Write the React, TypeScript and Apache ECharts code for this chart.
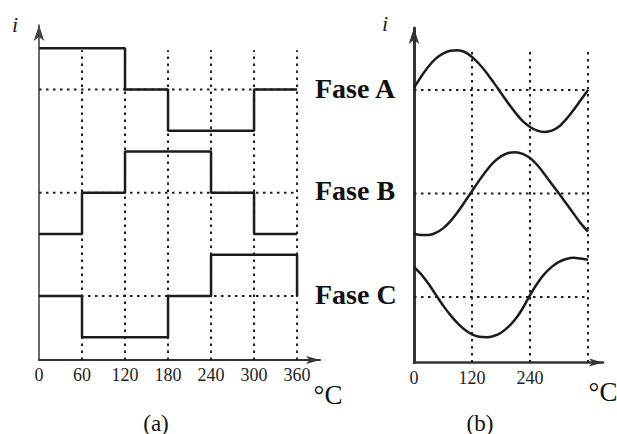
import React, { useEffect, useRef } from "react";
import * as echarts from "echarts";

// ---- Data ----
const stepDegrees = [0, 60, 120, 180, 240, 300, 360];
const stepPhaseA = [1, 1, 0, -1, -1, 0, 0];
const stepPhaseB = [-1, 0, 1, 1, 0, -1, -1];
const stepPhaseC = [0, -1, -1, 0, 1, 1, 0];

const sineDegrees = [
  0, 15, 30, 45, 60, 75, 90, 105, 120, 135, 150, 165, 180,
  195, 210, 225, 240, 255, 270, 285, 300, 315, 330, 345, 360,
];
const sinePhaseA = [
  0.06, 0.33, 0.57, 0.76, 0.88, 0.95, 0.96, 0.92, 0.8, 0.63, 0.42, 0.18, -0.07,
  -0.32, -0.55, -0.75, -0.89, -0.98, -1.01, -0.98, -0.88, -0.7, -0.48, -0.24, 0.0,
];
const sinePhaseB = [
  -0.97, -1.0, -1.0, -0.95, -0.84, -0.67, -0.45, -0.2, 0.06, 0.32, 0.56, 0.76, 0.9,
  0.98, 1.0, 0.96, 0.86, 0.69, 0.47, 0.23, 0.0, -0.24, -0.48, -0.72, -0.92,
];
const sinePhaseC = [
  0.72, 0.55, 0.32, 0.06, -0.2, -0.43, -0.63, -0.79, -0.9, -0.96, -0.97, -0.94, -0.86,
  -0.72, -0.53, -0.27, 0.05, 0.33, 0.56, 0.73, 0.85, 0.92, 0.95, 0.93, 0.9,
];

const phaseBaselines = [5, 2.5, 0];
const phaseNames = ["Fase A", "Fase B", "Fase C"];

const leftTickLabels = [0, 60, 120, 180, 240, 300, 360];
const rightTickLabels = [0, 120, 240];
const leftGridVerticals = [60, 120, 180, 240, 300, 360];
const rightGridVerticals = [120, 240, 360];

const FONT = '"Liberation Serif", "Times New Roman", serif';
const INK = "#1c1c1c";

export default function App() {
  const ref = useRef<HTMLDivElement>(null);

  useEffect(() => {
    if (!ref.current) return;
    const chart = echarts.init(ref.current, undefined, { renderer: "svg" });

    const yRanges = [
      { min: -1.55, max: 6.56 },
      { min: -1.58, max: 6.5 },
    ];
    const verticalTop = 5.95;

    const dotted = (gridIndex: number, data: number[][]) => ({
      type: "line",
      xAxisIndex: gridIndex,
      yAxisIndex: gridIndex,
      data,
      symbol: "none",
      silent: true,
      lineStyle: { color: "#1e1e1e", width: 2, type: [2.5, 4.5] },
      z: 1,
    });

    const series: any[] = [];
    leftGridVerticals.forEach((d) =>
      series.push(dotted(0, [[d, yRanges[0].min], [d, verticalTop]]))
    );
    phaseBaselines.forEach((b) => series.push(dotted(0, [[0, b], [360, b]])));
    rightGridVerticals.forEach((d) =>
      series.push(dotted(1, [[d, yRanges[1].min], [d, verticalTop]]))
    );
    phaseBaselines.forEach((b) => series.push(dotted(1, [[0, b], [360, b]])));

    [stepPhaseA, stepPhaseB, stepPhaseC].forEach((vals, k) => {
      series.push({
        type: "line",
        xAxisIndex: 0,
        yAxisIndex: 0,
        step: "end",
        symbol: "none",
        data: stepDegrees.map((d, i) => [d, phaseBaselines[k] + vals[i]]),
        lineStyle: { color: INK, width: 2.5 },
        z: 3,
      });
    });

    [sinePhaseA, sinePhaseB, sinePhaseC].forEach((vals, k) => {
      series.push({
        type: "line",
        xAxisIndex: 1,
        yAxisIndex: 1,
        smooth: 0.3,
        symbol: "none",
        data: sineDegrees.map((d, i) => [d, phaseBaselines[k] + vals[i]]),
        lineStyle: { color: INK, width: 2.5 },
        z: 3,
      });
    });

    const labelStyle = {
      fontFamily: FONT,
      fontSize: 18,
      color: "#222",
      margin: 6,
    };

    const option: any = {
      animation: false,
      backgroundColor: "#ffffff",
      textStyle: { fontFamily: FONT },
      grid: [
        { left: 39, top: 25, width: 281, height: 335 },
        { left: 414, top: 28, width: 189, height: 334.5 },
      ],
      xAxis: [
        {
          type: "value",
          gridIndex: 0,
          min: 0,
          max: 392,
          interval: 60,
          splitLine: { show: false },
          axisTick: { show: false },
          axisLine: {
            onZero: false,
            lineStyle: { color: "#333", width: 2 },
            symbol: ["none", "arrow"],
            symbolSize: [6, 14],
          },
          axisLabel: {
            ...labelStyle,
            showMaxLabel: false,
            formatter: (v: number) =>
              leftTickLabels.indexOf(v) >= 0 ? String(v) : "",
          },
        },
        {
          type: "value",
          gridIndex: 1,
          min: 0,
          max: 391,
          interval: 120,
          splitLine: { show: false },
          axisTick: { show: false },
          axisLine: {
            onZero: false,
            lineStyle: { color: "#333", width: 2.5 },
            symbol: ["none", "arrow"],
            symbolSize: [6, 14],
          },
          axisLabel: {
            ...labelStyle,
            showMaxLabel: false,
            formatter: (v: number) =>
              rightTickLabels.indexOf(v) >= 0 ? String(v) : "",
          },
        },
      ],
      yAxis: [
        {
          type: "value",
          gridIndex: 0,
          min: yRanges[0].min,
          max: yRanges[0].max,
          splitLine: { show: false },
          axisTick: { show: false },
          axisLabel: { show: false },
          axisLine: {
            show: true,
            onZero: false,
            lineStyle: { color: "#444", width: 1.6 },
            symbol: ["none", "arrow"],
            symbolSize: [8, 16],
          },
        },
        {
          type: "value",
          gridIndex: 1,
          min: yRanges[1].min,
          max: yRanges[1].max,
          splitLine: { show: false },
          axisTick: { show: false },
          axisLabel: { show: false },
          axisLine: {
            show: true,
            onZero: false,
            lineStyle: { color: "#333", width: 3 },
            symbol: ["none", "arrow"],
            symbolSize: [8, 16],
          },
        },
      ],
      series,
      graphic: [
        ...phaseNames.map((name, k) => ({
          type: "text",
          x: 315,
          y: [88, 190, 294][k],
          style: {
            text: name,
            fontFamily: FONT,
            fontSize: 28,
            fontWeight: "bold",
            fill: "#111",
            align: "left",
            verticalAlign: "middle",
          },
        })),
        {
          type: "text",
          x: 15,
          y: 24,
          style: {
            text: "i",
            fontFamily: FONT,
            fontStyle: "italic",
            fontSize: 22,
            fill: "#222",
            align: "center",
            verticalAlign: "middle",
          },
        },
        {
          type: "text",
          x: 385,
          y: 23,
          style: {
            text: "i",
            fontFamily: FONT,
            fontStyle: "italic",
            fontSize: 22,
            fill: "#222",
            align: "center",
            verticalAlign: "middle",
          },
        },
        {
          type: "text",
          x: 328,
          y: 395,
          style: {
            text: "°C",
            fontFamily: FONT,
            fontSize: 27,
            fill: "#111",
            align: "center",
            verticalAlign: "middle",
          },
        },
        {
          type: "text",
          x: 603,
          y: 392,
          style: {
            text: "°C",
            fontFamily: FONT,
            fontSize: 27,
            fill: "#111",
            align: "center",
            verticalAlign: "middle",
          },
        },
        {
          type: "text",
          x: 156,
          y: 423,
          style: {
            text: "(a)",
            fontFamily: FONT,
            fontSize: 23,
            fill: "#111",
            align: "center",
            verticalAlign: "middle",
          },
        },
        {
          type: "text",
          x: 480,
          y: 423,
          style: {
            text: "(b)",
            fontFamily: FONT,
            fontSize: 23,
            fill: "#111",
            align: "center",
            verticalAlign: "middle",
          },
        },
      ],
    };

    chart.setOption(option);
    return () => chart.dispose();
  }, []);

  return (
    <div
      ref={ref}
      style={{
        position: "fixed",
        left: 0,
        top: 0,
        width: 617,
        height: 434,
        background: "#fff",
      }}
    />
  );
}
